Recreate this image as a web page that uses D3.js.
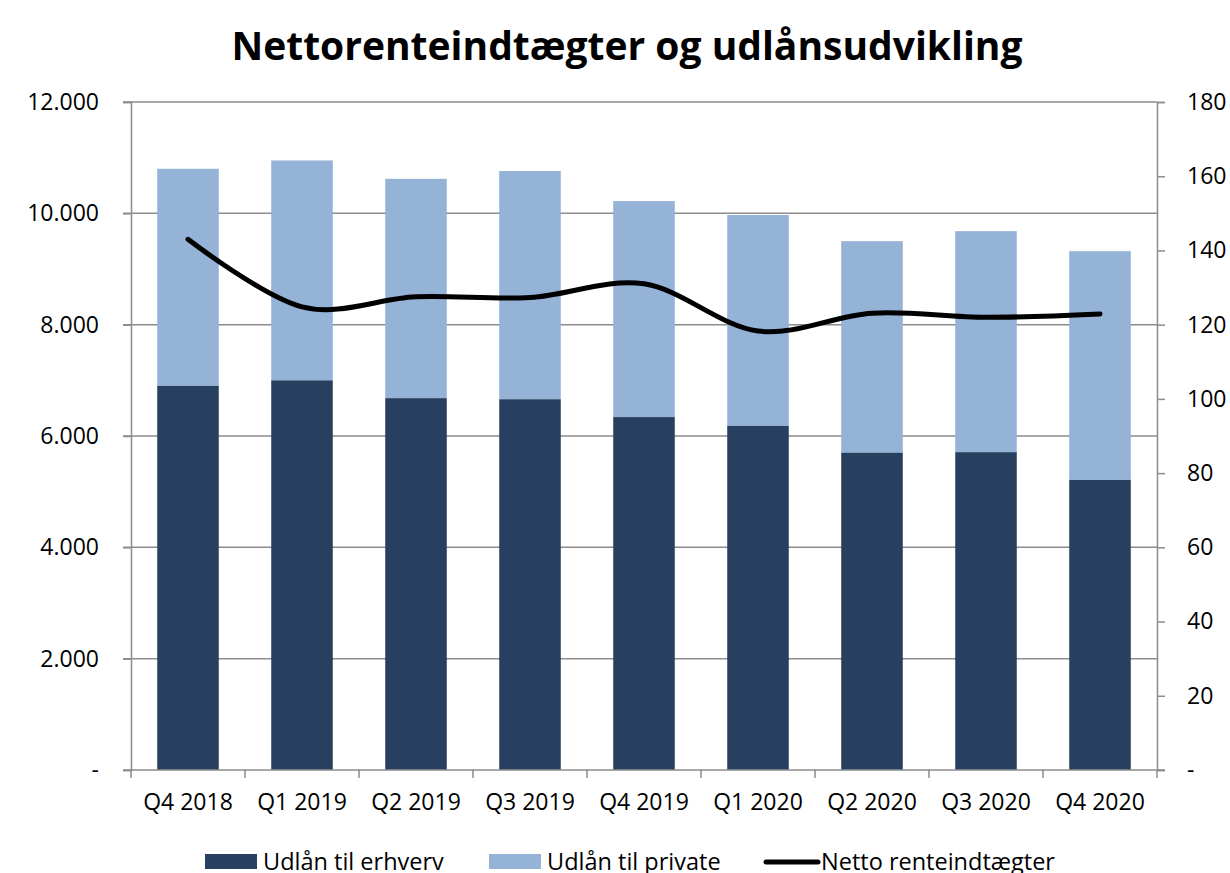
<!DOCTYPE html>
<html>
<head>
<meta charset="utf-8">
<script src="https://cdn.jsdelivr.net/npm/d3@7"></script>
<style>
  body { margin: 0; background: #fff; }
  text { font-family: "Open Sans", sans-serif; fill: #000; }
</style>
</head>
<body>
<script>
// data
var quarters = ["Q4 2018", "Q1 2019", "Q2 2019", "Q3 2019", "Q4 2019", "Q1 2020", "Q2 2020", "Q3 2020", "Q4 2020"];
var erhverv  = [6900, 7000, 6680, 6660, 6340, 6180, 5700, 5710, 5210];
var privat   = [3900, 3950, 3940, 4100, 3880, 3790, 3800, 3970, 4110];
var netto    = [143, 124.8, 127.5, 127.3, 131, 118.3, 123.1, 122, 122.9];
var leftTicks  = [0, 2000, 4000, 6000, 8000, 10000, 12000];
var rightTicks = [0, 20, 40, 60, 80, 100, 120, 140, 160, 180];

(function() {
var width = 1230, height = 873;
var pl = 131, pr = 1157, pt = 102, pb = 770;
var grey = "#8c8c8c";

var svg = d3.select("body").append("svg")
    .attr("width", width)
    .attr("height", height);

var x = d3.scaleBand().domain(quarters).range([pl, pr]).paddingInner(0.46).paddingOuter(0.23);
var y = d3.scaleLinear().domain([0, 12000]).range([pb, pt]);
var y2 = d3.scaleLinear().domain([0, 180]).range([pb, pt]);

var fmt = function(d) { return d === 0 ? "-" : d3.format(",")(d).replace(/,/g, "."); };

// gridlines
svg.append("g").selectAll("line")
    .data(leftTicks.filter(function(d) { return d > 0; }))
    .enter().append("line")
    .attr("x1", pl - 8).attr("x2", pr)
    .attr("y1", function(d) { return y(d); })
    .attr("y2", function(d) { return y(d); })
    .attr("stroke", grey).attr("stroke-width", 1.5);

// stacked bars
var stack = quarters.map(function(q, i) { return {q: q, a: erhverv[i], b: privat[i]}; });
svg.append("g").selectAll("rect")
    .data(stack).enter().append("rect")
    .attr("x", function(d) { return x(d.q); })
    .attr("width", x.bandwidth())
    .attr("y", function(d) { return y(d.a + d.b); })
    .attr("height", function(d) { return y(d.a) - y(d.a + d.b); })
    .attr("fill", "#95b3d7");
svg.append("g").selectAll("rect")
    .data(stack).enter().append("rect")
    .attr("x", function(d) { return x(d.q); })
    .attr("width", x.bandwidth())
    .attr("y", function(d) { return y(d.a); })
    .attr("height", function(d) { return y(0) - y(d.a); })
    .attr("fill", "#27405f");

// axes
var gl = svg.append("g").attr("transform", "translate(" + pl + ",0)")
    .call(d3.axisLeft(y).tickValues(leftTicks).tickFormat(fmt).tickSize(8).tickPadding(24));
var gr = svg.append("g").attr("transform", "translate(" + pr + ",0)")
    .call(d3.axisRight(y2).tickValues(rightTicks).tickFormat(fmt).tickSize(8).tickPadding(22));
var gx = svg.append("g").attr("transform", "translate(0," + pb + ")")
    .call(d3.axisBottom(x).tickSize(0).tickPadding(24));
// category boundary ticks
svg.append("g").selectAll("line")
    .data(d3.range(quarters.length + 1))
    .enter().append("line")
    .attr("x1", function(i) { return pl + i * x.step(); })
    .attr("x2", function(i) { return pl + i * x.step(); })
    .attr("y1", pb).attr("y2", pb + 8)
    .attr("stroke", grey).attr("stroke-width", 1.5);

[gl, gr, gx].forEach(function(g) {
  g.select(".domain").attr("stroke", grey).attr("stroke-width", 1.5);
  g.selectAll(".tick line").attr("stroke", grey).attr("stroke-width", 1.5);
  g.selectAll("text").attr("font-size", 23).attr("font-family", "Open Sans, sans-serif").attr("fill", "#000");
});
gx.select(".domain").attr("d", "M" + (pl - 8) + ",0H" + (pr + 8));

// line
var line = d3.line()
    .x(function(d, i) { return x(quarters[i]) + x.bandwidth() / 2; })
    .y(function(d) { return y2(d); })
    .curve(d3.curveCardinal.tension(0));
svg.append("path")
    .datum(netto)
    .attr("d", line)
    .attr("fill", "none")
    .attr("stroke", "#000")
    .attr("stroke-width", 5)
    .attr("stroke-linecap", "round");

// title
svg.append("text")
    .attr("x", 627).attr("y", 60)
    .attr("text-anchor", "middle")
    .attr("font-size", 39).attr("font-weight", "bold")
    .text("Nettorenteindtægter og udlånsudvikling");

// legend
var leg = svg.append("g");
leg.append("rect").attr("x", 205).attr("y", 854).attr("width", 52).attr("height", 15).attr("fill", "#27405f");
leg.append("text").attr("x", 263).attr("y", 870).attr("font-size", 23.5).text("Udlån til erhverv");
leg.append("rect").attr("x", 489).attr("y", 854).attr("width", 52).attr("height", 15).attr("fill", "#95b3d7");
leg.append("text").attr("x", 547).attr("y", 870).attr("font-size", 23.5).text("Udlån til private");
leg.append("line").attr("x1", 766).attr("x2", 818).attr("y1", 862).attr("y2", 862)
    .attr("stroke", "#000").attr("stroke-width", 5).attr("stroke-linecap", "round");
leg.append("text").attr("x", 821).attr("y", 870).attr("font-size", 23.5).text("Netto renteindtægter");
})();
</script>
</body>
</html>
